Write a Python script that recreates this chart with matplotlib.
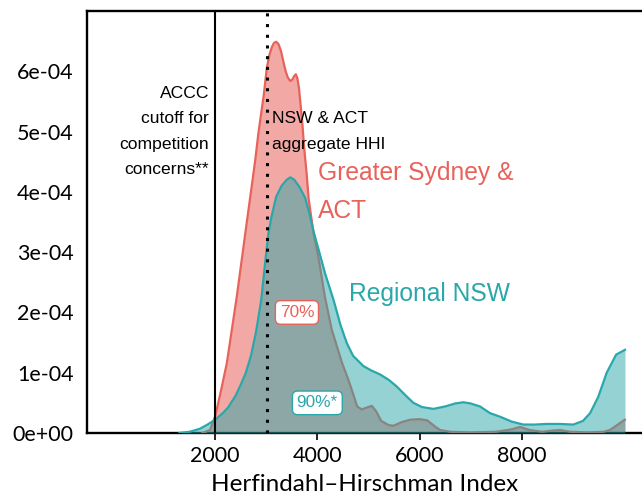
import matplotlib
matplotlib.use("Agg")
import matplotlib.pyplot as plt
import numpy as np

# Kernel density of market HHI, read as (HHI, density x 1e-4)
sydney_hhi = [1750, 1900, 2000, 2100, 2228, 2424, 2600, 2700, 2780, 2850, 2950,
              3010, 3060, 3109, 3150, 3194, 3240, 3290, 3337, 3380, 3420, 3468,
              3510, 3545, 3579, 3610, 3640, 3700, 3740, 3790, 3830, 3924, 4020,
              4150, 4280, 4480, 4600, 4700, 4780, 4870, 4960, 5066, 5150, 5250,
              5400, 5490, 5650, 5816, 6000, 6150, 6300, 6400, 6600, 7000, 7500,
              7800, 7970, 8150, 8400, 8600, 8750, 8950, 9300, 9600, 9730, 9850,
              10020]
sydney_density = [0.0, 0.05, 0.28, 0.65, 1.16, 2.27, 3.38, 4.0, 4.5, 5.0, 5.6,
                  6.05, 6.27, 6.4, 6.47, 6.49, 6.45, 6.33, 6.15, 6.0, 5.9, 5.84,
                  5.86, 5.92, 5.95, 5.88, 5.72, 5.2, 4.75, 4.3, 3.88, 3.32, 2.92,
                  2.25, 1.72, 1.17, 0.9, 0.65, 0.44, 0.39, 0.42, 0.45, 0.36, 0.2,
                  0.13, 0.12, 0.18, 0.22, 0.23, 0.21, 0.11, 0.05, 0.02, 0.01, 0.02,
                  0.06, 0.1, 0.05, 0.02, 0.04, 0.05, 0.02, 0.01, 0.02, 0.05, 0.12,
                  0.22]

regional_hhi = [1300, 1500, 1700, 1850, 2000, 2150, 2250, 2400, 2500, 2600, 2700,
                2800, 2900, 2975, 3040, 3100, 3194, 3300, 3400, 3470, 3550, 3650,
                3761, 3850, 3930, 4022, 4150, 4316, 4450, 4577, 4700, 4902, 5050,
                5230, 5400, 5556, 5720, 5880, 6050, 6272, 6500, 6700, 6860, 7000,
                7185, 7380, 7577, 7800, 8033, 8250, 8490, 8750, 9012, 9200, 9340,
                9500, 9665, 9850, 10023]
regional_density = [0.0, 0.02, 0.07, 0.14, 0.22, 0.33, 0.42, 0.62, 0.8, 1.0, 1.28,
                    1.68, 2.2, 2.8, 3.3, 3.58, 3.92, 4.1, 4.2, 4.24, 4.2, 4.08,
                    3.9, 3.62, 3.33, 3.05, 2.65, 2.21, 1.8, 1.49, 1.28, 1.11, 1.04,
                    0.97, 0.88, 0.77, 0.63, 0.5, 0.43, 0.40, 0.44, 0.49, 0.51, 0.49,
                    0.44, 0.33, 0.27, 0.19, 0.14, 0.14, 0.15, 0.15, 0.14, 0.2, 0.33,
                    0.6, 1.0, 1.3, 1.38]

accc_cutoff = 2000
aggregate_hhi = 3020

x_ticks = [2000, 4000, 6000, 8000]
y_ticks = [0, 1e-4, 2e-4, 3e-4, 4e-4, 5e-4, 6e-4]
y_tick_labels = ["0e+00", "1e-04", "2e-04", "3e-04", "4e-04", "5e-04", "6e-04"]

RED = "#E8625A"
TEAL = "#2AA7AA"
TICK_FONT = ["Lato", "DejaVu Sans"]
NOTE_FONT = ["Liberation Sans", "DejaVu Sans"]

fig = plt.figure(figsize=(6.42, 4.98), dpi=100)
ax = fig.add_axes([87 / 642, 65 / 498, 1 - 87 / 642, 422 / 498])

sx = np.array(sydney_hhi)
sy = np.array(sydney_density) * 1e-4
rx = np.array(regional_hhi)
ry = np.array(regional_density) * 1e-4

ax.fill_between(sx, 0, sy, color=RED, alpha=0.55, linewidth=0, zorder=2)
ax.plot(sx, sy, color=RED, lw=1.6, zorder=3, solid_joinstyle="round")
ax.fill_between(rx, 0, ry, color=TEAL, alpha=0.5, linewidth=0, zorder=4)
ax.plot(rx, ry, color=TEAL, lw=1.6, zorder=5, solid_joinstyle="round")

ax.axvline(accc_cutoff, color="black", lw=1.5, zorder=6)
ax.axvline(aggregate_hhi, color="black", lw=2.2, linestyle=(0, (1, 2.5)),
           dash_capstyle="butt", zorder=6)

ax.set_xlim(-510, 10356)
ax.set_ylim(0, 7.0e-4)

ax.set_xticks(x_ticks)
ax.set_xticklabels([str(t) for t in x_ticks], family=TICK_FONT, fontsize=15.5)
ax.set_yticks(y_ticks)
ax.set_yticklabels(y_tick_labels, family=TICK_FONT, fontsize=15.5)
ax.tick_params(axis="x", length=5, width=1.2, pad=4)
ax.tick_params(axis="y", length=0, pad=9.5)
ax.set_xlabel("Herfindahl\u2013Hirschman Index", family=TICK_FONT, fontsize=17.5,
              labelpad=6)

for side in ("left", "bottom", "top"):
    ax.spines[side].set_linewidth(1.7)
ax.spines["right"].set_visible(False)

ax.text(1880, 5.0e-4, "ACCC\ncutoff for\ncompetition\nconcerns**", ha="right",
        va="center", family=NOTE_FONT, fontsize=12.6, linespacing=1.88)
ax.text(3110, 5.0e-4, "NSW & ACT\naggregate HHI", ha="left", va="center",
        family=NOTE_FONT, fontsize=12.6, linespacing=1.88)
ax.text(4020, 4.0e-4, "Greater Sydney &\nACT", ha="left", va="center",
        family=NOTE_FONT, fontsize=17.7, color=RED, linespacing=1.7, zorder=7)
ax.text(4620, 2.3e-4, "Regional NSW", ha="left", va="center",
        family=NOTE_FONT, fontsize=17.7, color=TEAL, zorder=7)

ax.text(3600, 2.0e-4, "70%", ha="center", va="center", family=NOTE_FONT,
        fontsize=12.4, color=RED, zorder=8,
        bbox=dict(boxstyle="round,pad=0.25,rounding_size=0.3", fc="white",
                  ec=RED, lw=1.0))
ax.text(4000, 0.5e-4, "90%*", ha="center", va="center", family=NOTE_FONT,
        fontsize=12.4, color=TEAL, zorder=8,
        bbox=dict(boxstyle="round,pad=0.25,rounding_size=0.3", fc="white",
                  ec=TEAL, lw=1.0))

fig.savefig("out.png", dpi=100)
